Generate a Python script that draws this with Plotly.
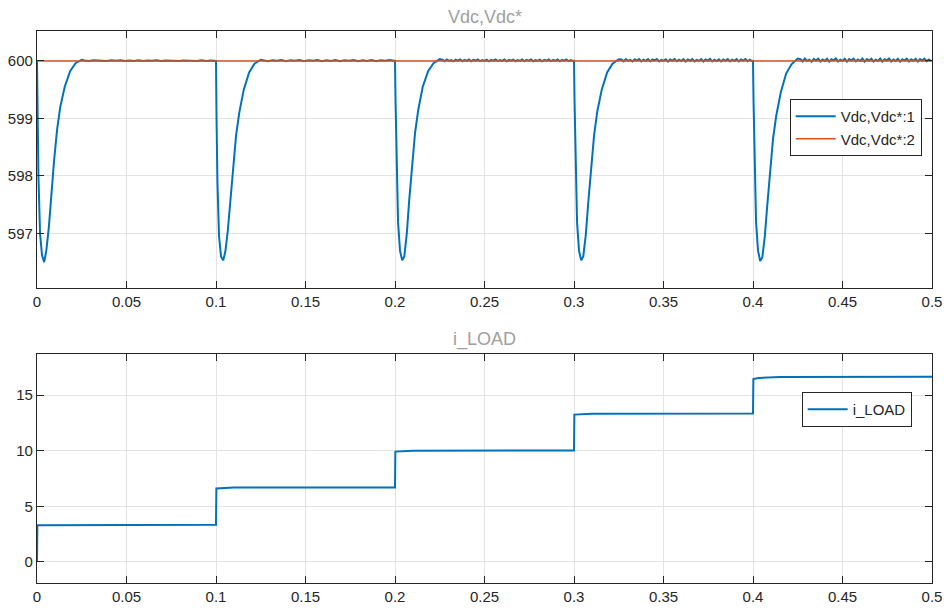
import numpy as np
import plotly.graph_objects as go

# ---------------- data ----------------
step_times = [0.0, 0.1, 0.2, 0.3, 0.4]
t_end = 0.5

# time offsets (s) from each load step for the voltage dip
dip_offsets = [0.0, 0.0003, 0.0008, 0.0017, 0.0028, 0.0040, 0.0052, 0.0066,
               0.0080, 0.0095, 0.0112, 0.0130, 0.0155, 0.0185, 0.0215, 0.0250]
dip1 = [600.0, 599.1, 598.0, 597.0, 596.62, 596.5, 596.7, 597.1, 597.7, 598.25,
        598.8, 599.2, 599.55, 599.82, 599.96, 600.02]
dip2 = [600.0, 599.0, 597.9, 596.95, 596.6, 596.53, 596.68, 597.05, 597.6, 598.15,
        598.7, 599.1, 599.5, 599.8, 599.95, 600.02]
dip3 = [600.0, 599.3, 598.3, 597.2, 596.7, 596.53, 596.6, 597.0, 597.6, 598.2,
        598.75, 599.15, 599.55, 599.82, 599.96, 600.03]
dip4 = [600.0, 599.3, 598.3, 597.2, 596.7, 596.53, 596.6, 596.98, 597.55, 598.15,
        598.7, 599.12, 599.5, 599.8, 599.95, 600.03]
dip5 = [600.0, 599.3, 598.3, 597.2, 596.7, 596.52, 596.58, 596.95, 597.5, 598.1,
        598.65, 599.05, 599.45, 599.78, 599.94, 600.04]

# steady-state ripple after each recovery
rip1 = [600.008, 599.998, 600.01, 600.002, 600.006, 599.997, 600.009, 600.001, 600.01, 599.998,
        600.007, 600.0, 600.009, 599.997, 600.008, 600.002, 600.01, 599.998, 600.006, 600.001,
        600.009, 599.997, 600.008, 600.002, 600.007, 599.998, 600.01, 600.0, 600.008, 599.998]
rip2 = [600.014, 599.996, 600.012, 600.002, 600.016, 599.995, 600.013, 600.003, 600.015, 599.996,
        600.011, 600.001, 600.016, 599.996, 600.013, 599.999, 600.015, 599.995, 600.012, 600.002,
        600.016, 599.996, 600.013, 600.0, 600.015, 599.996, 600.011, 600.003, 600.014, 599.997]
rip3 = [600.02, 599.995, 600.024, 600.0, 600.014, 599.992, 600.021, 600.004, 600.025, 599.994,
        600.016, 600.0, 600.023, 599.993, 600.019, 600.006, 600.025, 599.995, 600.013, 600.0,
        600.022, 599.992, 600.018, 600.004, 600.024, 599.996, 600.015, 599.999, 600.024, 599.993,
        600.019, 600.003, 600.023, 599.994, 600.014, 600.0, 600.024, 599.992, 600.018, 600.005,
        600.025, 599.994, 600.015, 599.999, 600.022, 599.993, 600.018, 600.004, 600.024, 599.995,
        600.016, 600.0, 600.023, 599.992, 600.019, 600.003, 600.024, 599.995, 600.015, 599.998]
rip4 = [600.025, 599.992, 600.032, 600.0, 600.018, 599.989, 600.028, 600.004, 600.032, 599.992,
        600.02, 600.0, 600.03, 599.99, 600.024, 600.008, 600.034, 599.992, 600.016, 600.0,
        600.029, 599.989, 600.024, 600.004, 600.032, 599.994, 600.02, 599.998, 600.032, 599.99,
        600.026, 600.003, 600.03, 599.992, 600.018, 600.0, 600.032, 599.989, 600.024, 600.006,
        600.034, 599.992, 600.019, 599.998, 600.029, 599.99, 600.024, 600.005, 600.032, 599.992,
        600.021, 600.0, 600.03, 599.99, 600.026, 600.004, 600.032, 599.993, 600.02, 599.998]
rip5 = [600.03, 599.99, 600.04, 600.0, 600.022, 599.985, 600.035, 600.005, 600.04, 599.99,
        600.025, 600.0, 600.038, 599.988, 600.03, 600.01, 600.042, 599.99, 600.02, 600.0,
        600.036, 599.986, 600.03, 600.005, 600.04, 599.992, 600.025, 599.998, 600.04, 599.988,
        600.032, 600.004, 600.038, 599.99, 600.022, 600.0, 600.04, 599.986, 600.03, 600.008,
        600.042, 599.99, 600.024, 599.998, 600.036, 599.988, 600.03, 600.006, 600.04, 599.99,
        600.026, 600.0, 600.038, 599.987, 600.032, 600.005, 600.04, 599.992, 600.025, 599.998]

vdc_ref_t = [0.0, 0.5]
vdc_ref = [600.0, 600.0]

iload_t = [0.0, 0.0002, 0.1, 0.1002, 0.11, 0.2, 0.2002, 0.21, 0.3, 0.3002, 0.31,
           0.4, 0.4002, 0.403, 0.415, 0.5]
iload = [0.0, 3.3, 3.33, 6.6, 6.68, 6.7, 9.92, 10.0, 10.02, 13.25, 13.33, 13.35,
         16.45, 16.55, 16.64, 16.66]

x_ticks = [0, 0.05, 0.1, 0.15, 0.2, 0.25, 0.3, 0.35, 0.4, 0.45, 0.5]
x_ticktext = ["0", "0.05", "0.1", "0.15", "0.2", "0.25", "0.3", "0.35", "0.4", "0.45", "0.5"]
y1_ticks = [597, 598, 599, 600]
y2_ticks = [0, 5, 10, 15]

# ---------------- build voltage trace ----------------
dips = [dip1, dip2, dip3, dip4, dip5]
rips = [rip1, rip2, rip3, rip4, rip5]
vt, vv = [], []
for k, t0 in enumerate(step_times):
    for off, val in zip(dip_offsets, dips[k]):
        vt.append(t0 + off)
        vv.append(val)
    t_next = step_times[k + 1] if k + 1 < len(step_times) else t_end
    seg_t = np.linspace(t0 + dip_offsets[-1] + 0.0015, t_next - 0.0005, len(rips[k]))
    vt.extend(seg_t.tolist())
    vv.extend(rips[k])

BLUE = "#0072BD"
ORANGE = "#D95319"
AX = "#262626"
GRID = "#e3e3e3"
FONT = "Liberation Sans, Arial, sans-serif"

fig = go.Figure()
fig.add_trace(go.Scatter(x=vt, y=vv, mode="lines", name="Vdc,Vdc*:1",
                         line=dict(color=BLUE, width=2), xaxis="x", yaxis="y",
                         legend="legend"))
fig.add_trace(go.Scatter(x=vdc_ref_t, y=vdc_ref, mode="lines", name="Vdc,Vdc*:2",
                         line=dict(color=ORANGE, width=1.5), xaxis="x", yaxis="y",
                         legend="legend"))
fig.add_trace(go.Scatter(x=iload_t, y=iload, mode="lines", name="i_LOAD",
                         line=dict(color=BLUE, width=2), xaxis="x2", yaxis="y2",
                         legend="legend2"))

H = 612.0
axis_common = dict(showline=True, linecolor=AX, linewidth=1.2, mirror="ticks",
                   ticks="inside", ticklen=7, tickcolor=AX, tickwidth=1,
                   showgrid=True, gridcolor=GRID, gridwidth=1, zeroline=False,
                   tickfont=dict(family=FONT, size=15, color=AX))

fig.update_layout(
    width=944, height=612,
    margin=dict(l=37, r=12, t=0, b=0),
    paper_bgcolor="white", plot_bgcolor="white",
    font=dict(family=FONT, color=AX),
    xaxis=dict(domain=[0, 1], range=[0, 0.5], anchor="y", tickvals=x_ticks,
               ticktext=x_ticktext, **axis_common),
    yaxis=dict(domain=[1 - 288 / H, 1 - 31 / H], range=[596.05, 600.52], anchor="x",
               tickvals=y1_ticks, **axis_common),
    xaxis2=dict(domain=[0, 1], range=[0, 0.5], anchor="y2", tickvals=x_ticks,
                ticktext=x_ticktext, **axis_common),
    yaxis2=dict(domain=[1 - 583 / H, 1 - 354 / H], range=[-1.9, 18.7], anchor="x2",
                tickvals=y2_ticks, **axis_common),
    legend=dict(x=0.9885, y=1 - 99 / H, xanchor="right", yanchor="top",
                bgcolor="white", bordercolor=AX, borderwidth=1,
                font=dict(family=FONT, size=15, color=AX), tracegroupgap=0,
                itemwidth=40),
    legend2=dict(x=0.9773, y=1 - 392 / H, xanchor="right", yanchor="top",
                 bgcolor="white", bordercolor=AX, borderwidth=1,
                 font=dict(family=FONT, size=15, color=AX), itemwidth=40),
    annotations=[
        dict(text="Vdc,Vdc*", x=0.5, y=1 - 16.5 / H, xref="paper", yref="paper",
             xanchor="center", yanchor="middle", showarrow=False,
             font=dict(family=FONT, size=18, color="#a0a0a0")),
        dict(text="i_LOAD", x=0.5, y=1 - 339 / H, xref="paper", yref="paper",
             xanchor="center", yanchor="middle", showarrow=False,
             font=dict(family=FONT, size=18, color="#a0a0a0")),
    ],
)

fig.write_html("out.html")
